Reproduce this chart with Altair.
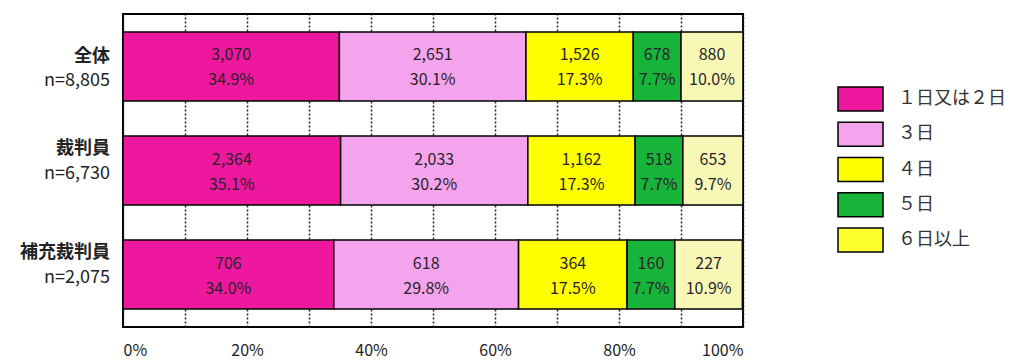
import altair as alt
import pandas as pd

# Respondent groups and their sample sizes
groups = ["全体", "裁判員", "補充裁判員"]
totals = ["n=8,805", "n=6,730", "n=2,075"]

# Number of days categories
days = ["１日又は２日", "３日", "４日", "５日", "６日以上"]

# Counts and shares per group, in the order of `days`
counts_all = [3070, 2651, 1526, 678, 880]
counts_judge = [2364, 2033, 1162, 518, 653]
counts_alt = [706, 618, 364, 160, 227]

pct_all = [34.9, 30.1, 17.3, 7.7, 10.0]
pct_judge = [35.1, 30.2, 17.3, 7.7, 9.7]
pct_alt = [34.0, 29.8, 17.5, 7.7, 10.9]

bar_colors = ["#EE189E", "#F3A4EC", "#FFFF00", "#17B43A", "#F8F8B6"]
legend_colors = ["#EE189E", "#F3A4EC", "#FFFF00", "#17B43A", "#FFFF2E"]

FONT = "Noto Sans CJK JP"

rows = []
for g, cs, ps in zip(groups, [counts_all, counts_judge, counts_alt],
                     [pct_all, pct_judge, pct_alt]):
    for i, (d, c, p) in enumerate(zip(days, cs, ps)):
        rows.append({
            "group": g, "day": d, "order": i, "count": c, "pct": p,
            "count_label": f"{c:,}", "pct_label": f"{p:.1f}%",
        })
df = pd.DataFrame(rows)

labels_df = pd.DataFrame({"group": groups, "total": totals})
legend_df = pd.DataFrame({"day": days})

y_enc = alt.Y(
    "group:N", sort=groups, axis=None,
    scale=alt.Scale(paddingInner=0.3365, paddingOuter=0.173),
)

base = alt.Chart(df).transform_stack(
    stack="pct", groupby=["group"], as_=["x0", "x1"],
    sort=[alt.SortField("order", order="ascending")],
).transform_calculate(mid="(datum.x0 + datum.x1) / 2")

bars = base.mark_bar(stroke="black", strokeWidth=1.5).encode(
    x=alt.X(
        "x0:Q", title=None,
        scale=alt.Scale(domain=[0, 100], nice=False),
        axis=alt.Axis(
            values=list(range(0, 101, 10)),
            labelExpr="datum.value % 20 == 0 ? datum.value + '%' : ''",
            grid=True, gridDash=[2, 2], gridColor="#222", gridWidth=1.5,
            ticks=False, domain=False,
            labelFont=FONT, labelFontSize=16, labelColor="#222",
            labelPadding=15,
        ),
    ),
    x2="x1:Q",
    y=y_enc,
    color=alt.Color("day:N", sort=days,
                    scale=alt.Scale(domain=days, range=bar_colors),
                    legend=None),
)

count_text = base.mark_text(dy=-11, fontSize=16, font=FONT, color="#2a1f2a").encode(
    x="mid:Q", y=y_enc, text="count_label:N"
)
pct_text = base.mark_text(dy=14, fontSize=16, font=FONT, color="#2a1f2a").encode(
    x="mid:Q", y=y_enc, text="pct_label:N"
)

# Group names (bold) with their sample sizes underneath
label_layers = []
for g, (dy_name, dy_n) in zip(groups, [(-9, 15), (-22, 3), (-22, 3)]):
    lab = alt.Chart(labels_df).transform_filter(alt.datum.group == g)
    label_layers.append(
        lab.mark_text(align="right", dy=dy_name, fontSize=18, fontWeight="bold",
                      font=FONT, color="#222").encode(
            x=alt.value(-13), y=y_enc, text="group:N")
    )
    label_layers.append(
        lab.mark_text(align="right", dy=dy_n, fontSize=18, font=FONT,
                      color="#222").encode(
            x=alt.value(-13), y=y_enc, text="total:N")
    )

main = alt.layer(bars, count_text, pct_text, *label_layers)

# Legend drawn as its own small layer to the right of the plot
leg_y = alt.Y("day:N", sort=days, axis=None,
              scale=alt.Scale(range=[67.5, 243.5], paddingInner=0, paddingOuter=0))
legend_boxes = alt.Chart(legend_df).mark_bar(
    orient="horizontal", size=24, stroke="black", strokeWidth=1.5
).encode(
    x=alt.value(715), x2=alt.value(760), y=leg_y,
    color=alt.Color("day:N", sort=days,
                    scale=alt.Scale(domain=days, range=legend_colors),
                    legend=None),
)
legend_text = alt.Chart(legend_df).mark_text(
    align="left", baseline="middle", fontSize=18, font=FONT, color="#333"
).encode(x=alt.value(775), y=leg_y, text="day:N")

legend = alt.layer(legend_boxes, legend_text)

chart = alt.layer(main, legend).resolve_scale(
    y="independent", color="independent"
).properties(
    width=620, height=313,
    background="white",
    autosize=alt.AutoSizeParams(type="none"),
    padding={"left": 123, "top": 14, "right": 270, "bottom": 34},
).configure_view(stroke="black", strokeWidth=2)

chart.save("out.html", embed_options={"renderer": "svg", "actions": False})
